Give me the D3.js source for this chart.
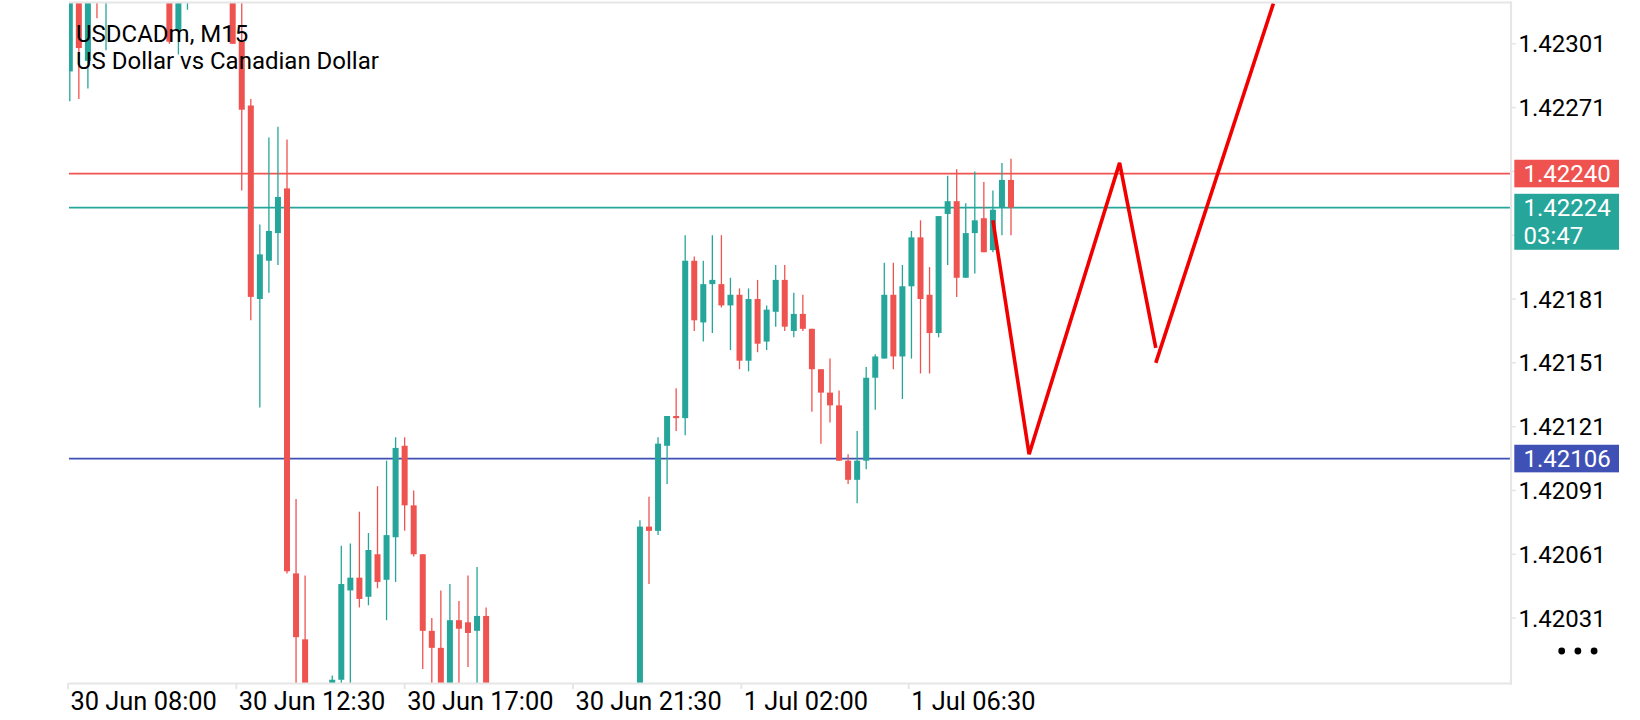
<!DOCTYPE html>
<html>
<head>
<meta charset="utf-8">
<script src="https://cdn.jsdelivr.net/npm/d3@7/dist/d3.min.js"></script>
<style>
    body { margin: 0; background: #fff; }
    svg { display: block; font-family: Roboto, "Noto Sans", sans-serif; }
</style>
</head>
<body>
<div id="chart"></div>
<script>
// M15 bars, index counted from the first bar on screen (missing ones are off-screen)
var barIdx = [0, 1, 2, 3, 4, 11, 12, 13, 18, 19, 20, 21, 22, 23, 24, 25, 26, 29, 30, 31,
    32, 33, 34, 35, 36, 37, 38, 39, 40, 41, 42, 43, 44, 45, 46, 63, 64, 65, 66, 67,
    68, 69, 70, 71, 72, 73, 74, 75, 76, 77, 78, 79, 80, 81, 82, 83, 84, 85, 86, 87,
    88, 89, 90, 91, 92, 93, 94, 95, 96, 97, 98, 99, 100, 101, 102, 103, 104];
var opens = [1.42288, 1.42330, 1.42293, 1.42340, 1.42325, 1.42335, 1.42307, 1.42330, 1.42335, 1.42302,
    1.42272, 1.42181, 1.42199, 1.42212, 1.42233, 1.42052, 1.42021, 1.41990, 1.42002, 1.42044,
    1.42050, 1.42041, 1.42061, 1.42049, 1.42069, 1.42112, 1.42084, 1.42061, 1.42025, 1.42017,
    1.41995, 1.42030, 1.42029, 1.42025, 1.42032, 1.41980, 1.42074, 1.42072, 1.42112, 1.42126,
    1.42125, 1.42199, 1.42170, 1.42188, 1.42188, 1.42178, 1.42183, 1.42152, 1.42181, 1.42161,
    1.42175, 1.42190, 1.42166, 1.42174, 1.42167, 1.42148, 1.42137, 1.42131, 1.42105, 1.42096,
    1.42105, 1.42144, 1.42153, 1.42183, 1.42154, 1.42187, 1.42210, 1.42183, 1.42165, 1.42221,
    1.42227, 1.42191, 1.42212, 1.42219, 1.42204, 1.42224, 1.42237];
var highs = [1.42335, 1.42335, 1.42335, 1.42345, 1.42345, 1.42340, 1.42340, 1.42350, 1.42340, 1.42330,
    1.42275, 1.42216, 1.42257, 1.42262, 1.42256, 1.42087, 1.42051, 1.42004, 1.42065, 1.42066,
    1.42081, 1.42071, 1.42093, 1.42105, 1.42116, 1.42116, 1.42091, 1.42061, 1.42031, 1.42044,
    1.42047, 1.42039, 1.42051, 1.42055, 1.42036, 1.42077, 1.42088, 1.42116, 1.42126, 1.42139,
    1.42211, 1.42201, 1.42199, 1.42211, 1.42211, 1.42191, 1.42186, 1.42186, 1.42190, 1.42178,
    1.42197, 1.42197, 1.42184, 1.42183, 1.42167, 1.42148, 1.42153, 1.42138, 1.42108, 1.42119,
    1.42149, 1.42155, 1.42198, 1.42198, 1.42197, 1.42213, 1.42218, 1.42196, 1.42220, 1.42239,
    1.42242, 1.42226, 1.42241, 1.42236, 1.42232, 1.42245, 1.42247];
var lows = [1.42274, 1.42275, 1.42280, 1.42313, 1.42298, 1.42301, 1.42296, 1.42317, 1.42301, 1.42232,
    1.42171, 1.42130, 1.42184, 1.42197, 1.42052, 1.41985, 1.41970, 1.41980, 1.41990, 1.41995,
    1.42036, 1.42037, 1.42045, 1.42030, 1.42048, 1.42072, 1.42060, 1.42007, 1.41995, 1.41985,
    1.41985, 1.41995, 1.42008, 1.41995, 1.41985, 1.41975, 1.42047, 1.42070, 1.42094, 1.42119,
    1.42117, 1.42166, 1.42161, 1.42165, 1.42177, 1.42157, 1.42148, 1.42147, 1.42156, 1.42157,
    1.42168, 1.42166, 1.42163, 1.42166, 1.42128, 1.42113, 1.42123, 1.42105, 1.42094, 1.42085,
    1.42101, 1.42129, 1.42153, 1.42148, 1.42134, 1.42153, 1.42146, 1.42146, 1.42163, 1.42197,
    1.42182, 1.42191, 1.42193, 1.42203, 1.42203, 1.42211, 1.42211];
var closes = [1.42330, 1.42299, 1.42330, 1.42325, 1.42340, 1.42302, 1.42335, 1.42345, 1.42301, 1.42270,
    1.42182, 1.42202, 1.42213, 1.42229, 1.42053, 1.42022, 1.41980, 1.42002, 1.42047, 1.42050,
    1.42040, 1.42063, 1.42048, 1.42070, 1.42111, 1.42084, 1.42061, 1.42025, 1.42017, 1.41995,
    1.42030, 1.42026, 1.42024, 1.42032, 1.41990, 1.42074, 1.42072, 1.42113, 1.42126, 1.42125,
    1.42199, 1.42171, 1.42188, 1.42190, 1.42178, 1.42183, 1.42152, 1.42181, 1.42160, 1.42176,
    1.42190, 1.42168, 1.42174, 1.42167, 1.42148, 1.42137, 1.42131, 1.42105, 1.42096, 1.42105,
    1.42144, 1.42154, 1.42183, 1.42154, 1.42187, 1.42210, 1.42181, 1.42165, 1.42220, 1.42227,
    1.42191, 1.42212, 1.42218, 1.42203, 1.42223, 1.42237, 1.42224];

// price axis
var yTicks = [1.42301, 1.42271, 1.42241, 1.42211, 1.42181, 1.42151, 1.42121, 1.42091, 1.42061, 1.42031];

// time axis labels and the bar position they sit on
var xTickLabels = ["30 Jun 08:00", "30 Jun 12:30", "30 Jun 17:00", "30 Jun 21:30", "1 Jul 02:00", "1 Jul 06:30"];
var xTickBars = [-0.2, 18.4, 37.0, 55.6, 74.2, 92.7];

// horizontal levels: ask, bid (with bar countdown), drawn line
var levelNames = ["ask", "bid", "line"];
var levelPrices = [1.42240, 1.42224, 1.42106];
var levelExtra = ["", "03:47", ""];

// hand drawn zigzag, two strokes
var pathBars = [[102, 106, 116, 120], [120, 133]];
var pathPrices = [[1.42218, 1.42108, 1.42245, 1.42158], [1.42151, 1.42320]];

var symbolTitle = "USDCADm, M15";
var symbolDesc = "US Dollar vs Canadian Dollar";

(function () {
    "use strict";

    var width = 1640,
        height = 720,
        plot = { left: 69, right: 1511, top: 2, bottom: 684 },
        upColor = "#26a69a",
        downColor = "#ef5350",
        levelColors = { ask: "#ef5350", bid: "#26a69a", line: "#3f51b5" },
        gridColor = "#e6e6e6",
        bodyWidth = 6,
        svg, clip, x, y, candles, hiddenTick;

    x = d3.scaleLinear()
        .domain([0, 104])
        .range([69.8, 69.8 + 104 * 9.05]);

    y = d3.scaleLinear()
        .domain([1.42000, 1.42301])
        .range([plot.bottom, 43.8]);

    candles = barIdx.map(function (b, i) {
        return { bar: b, open: opens[i], high: highs[i], low: lows[i], close: closes[i] };
    });

    svg = d3.select("#chart")
        .append("svg")
        .attr("width", width)
        .attr("height", height);

    svg.append("rect")
        .attr("width", width)
        .attr("height", height)
        .attr("fill", "#fff");

    svg.append("defs")
        .append("clipPath")
        .attr("id", "plot-clip")
        .append("rect")
        .attr("x", plot.left)
        .attr("y", plot.top)
        .attr("width", plot.right - plot.left)
        .attr("height", plot.bottom - plot.top - 1);

    clip = svg.append("g").attr("clip-path", "url(#plot-clip)");

    // level lines
    clip.selectAll(".level")
        .data(levelNames)
        .enter()
        .append("line")
        .attr("class", "level")
        .attr("x1", plot.left)
        .attr("x2", plot.right)
        .attr("y1", function (d, i) { return y(levelPrices[i]); })
        .attr("y2", function (d, i) { return y(levelPrices[i]); })
        .attr("stroke", function (d) { return levelColors[d]; })
        .attr("stroke-width", 1.8);

    // candles
    var bar = clip.selectAll(".candle")
        .data(candles)
        .enter()
        .append("g")
        .attr("class", "candle")
        .attr("fill", candleColor)
        .attr("stroke", candleColor);

    bar.append("line")
        .attr("x1", function (d) { return x(d.bar); })
        .attr("x2", function (d) { return x(d.bar); })
        .attr("y1", function (d) { return y(d.high); })
        .attr("y2", function (d) { return y(d.low); })
        .attr("stroke-width", 1.3);

    bar.append("rect")
        .attr("stroke", "none")
        .attr("x", function (d) { return x(d.bar) - bodyWidth / 2; })
        .attr("width", bodyWidth)
        .attr("y", function (d) { return y(Math.max(d.open, d.close)); })
        .attr("height", function (d) {
            return Math.max(2, Math.abs(y(d.open) - y(d.close)));
        });

    // zigzag
    var zigzag = d3.line()
        .x(function (d) { return x(d[0]); })
        .y(function (d) { return y(d[1]); });

    clip.selectAll(".zigzag")
        .data(pathBars)
        .enter()
        .append("path")
        .attr("class", "zigzag")
        .attr("d", function (d, k) {
            return zigzag(d.map(function (b, i) { return [b, pathPrices[k][i]]; }));
        })
        .attr("fill", "none")
        .attr("stroke", "#f20000")
        .attr("stroke-width", 3.6)
        .attr("stroke-linejoin", "miter");

    // frame
    svg.append("line")
        .attr("x1", plot.left).attr("x2", plot.right + 1)
        .attr("y1", plot.top + 0.5).attr("y2", plot.top + 0.5)
        .attr("stroke", gridColor).attr("stroke-width", 2.2);
    svg.append("line")
        .attr("x1", plot.left).attr("x2", plot.right + 1)
        .attr("y1", plot.bottom - 0.5).attr("y2", plot.bottom - 0.5)
        .attr("stroke", gridColor).attr("stroke-width", 2.2);
    svg.append("line")
        .attr("x1", plot.right).attr("x2", plot.right)
        .attr("y1", plot.top - 0.5).attr("y2", plot.bottom + 0.5)
        .attr("stroke", gridColor).attr("stroke-width", 2.2);

    // title
    svg.append("text")
        .attr("x", 76)
        .attr("y", 41.7)
        .attr("font-size", 24)
        .attr("fill", "#000")
        .text(symbolTitle);
    svg.append("text")
        .attr("x", 76)
        .attr("y", 69.3)
        .attr("font-size", 24)
        .attr("fill", "#000")
        .text(symbolDesc);

    // time axis
    var xAxis = svg.append("g").attr("class", "x axis");

    xAxis.selectAll("line")
        .data(xTickBars)
        .enter()
        .append("line")
        .attr("x1", function (d) { return x(d); })
        .attr("x2", function (d) { return x(d); })
        .attr("y1", plot.bottom - 1)
        .attr("y2", plot.bottom + 5)
        .attr("stroke", gridColor)
        .attr("stroke-width", 2);

    xAxis.selectAll("text")
        .data(xTickBars)
        .enter()
        .append("text")
        .attr("x", function (d) { return x(d) + 2.5; })
        .attr("y", 710)
        .attr("font-size", 25.4)
        .attr("fill", "#000")
        .text(function (d, i) { return xTickLabels[i]; });

    // price labels boxes, used to hide ticks sitting under them
    var boxes = levelNames.map(function (d, i) {
        var top = y(levelPrices[i]) - 13.8;
        return { name: d, top: top, bottom: top + (levelExtra[i] ? 56 : 27.6), i: i };
    });

    hiddenTick = function (t) {
        var ty = y(t);
        return boxes.some(function (b) {
            return ty + 10 > b.top && ty - 10 < b.bottom;
        });
    };

    var yAxis = svg.append("g").attr("class", "y axis");

    yAxis.selectAll("line")
        .data(yTicks)
        .enter()
        .append("line")
        .attr("x1", plot.right)
        .attr("x2", plot.right + 5)
        .attr("y1", function (d) { return y(d); })
        .attr("y2", function (d) { return y(d); })
        .attr("stroke", gridColor)
        .attr("stroke-width", 1.5);

    yAxis.selectAll("text")
        .data(yTicks.filter(function (t) { return !hiddenTick(t); }))
        .enter()
        .append("text")
        .attr("x", 1518.5)
        .attr("y", function (d) { return y(d); })
        .attr("dy", "0.36em")
        .attr("font-size", 24)
        .attr("fill", "#000")
        .text(function (d) { return d.toFixed(5); });

    var box = svg.selectAll(".price-box")
        .data(boxes)
        .enter()
        .append("g")
        .attr("class", "price-box");

    box.append("rect")
        .attr("x", 1514.3)
        .attr("y", function (d) { return d.top; })
        .attr("width", 104.7)
        .attr("height", function (d) { return d.bottom - d.top; })
        .attr("fill", function (d) { return levelColors[d.name]; });

    box.append("text")
        .attr("x", 1523.5)
        .attr("y", function (d) { return d.top + 13.8; })
        .attr("dy", "0.36em")
        .attr("font-size", 24)
        .attr("fill", "#fff")
        .text(function (d) { return levelPrices[d.i].toFixed(5); });

    box.filter(function (d) { return levelExtra[d.i]; })
        .append("text")
        .attr("x", 1523.5)
        .attr("y", function (d) { return d.top + 41.5; })
        .attr("dy", "0.36em")
        .attr("font-size", 24)
        .attr("fill", "#fff")
        .text(function (d) { return levelExtra[d.i]; });

    // menu dots
    svg.selectAll(".dot")
        .data([0, 1, 2])
        .enter()
        .append("circle")
        .attr("class", "dot")
        .attr("cx", function (d) { return 1561.7 + d * 16.2; })
        .attr("cy", 651)
        .attr("r", 3.4)
        .attr("fill", "#000");

    function candleColor(d) {
        return d.close >= d.open ? upColor : downColor;
    }
}());
</script>
</body>
</html>
